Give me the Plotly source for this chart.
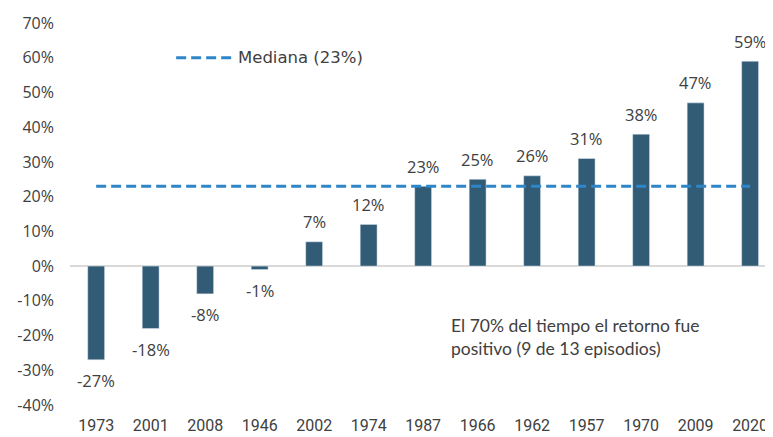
import plotly.graph_objects as go

years = ['1973', '2001', '2008', '1946', '2002', '1974', '1987', '1966', '1962', '1957', '1970', '2009', '2020']
returns = [-27, -18, -8, -1, 7, 12, 23, 25, 26, 31, 38, 47, 59]
median_value = 23
median_label = 'Mediana (23%)'
note_text = 'El 70% del tiempo el retorno fue<br>positivo (9 de 13 episodios)'
y_ticks = list(range(-40, 71, 10))

bar_color = '#325B76'
median_color = '#2E86C8'
text_color = '#404040'

fig = go.Figure()

fig.add_trace(go.Bar(
    x=years, y=returns, width=0.31,
    marker_color=bar_color, showlegend=False, hoverinfo='skip'
))

# median line across all categories
fig.add_trace(go.Scatter(
    x=[years[0], years[-1]], y=[median_value, median_value],
    mode='lines', line=dict(color=median_color, width=3, dash='10px,5px'),
    showlegend=False, hoverinfo='skip'
))

# value labels above / below the bars (category axis -> use index)
for i, v in enumerate(returns):
    fig.add_annotation(
        x=i, y=v, text=f'{v}%', showarrow=False,
        yshift=20 if v >= 0 else -21,
        font=dict(family='Open Sans', size=16.5, color=text_color)
    )

# legend key for the median
fig.add_shape(type='line', xref='paper', yref='y', x0=0.151, x1=0.232, y0=60, y1=60,
              line=dict(color=median_color, width=3, dash='10px,5px'))
fig.add_annotation(xref='paper', yref='y', x=0.236, y=60, text=median_label,
                   showarrow=False, xanchor='left',
                   font=dict(family='DejaVu Sans', size=16.5, color=text_color))

fig.add_annotation(xref='paper', yref='y', x=0.539, y=-20.5, text=note_text,
                   showarrow=False, xanchor='left', align='left',
                   font=dict(family='Lato', size=17.5, color=text_color))

# page body adds an 8px offset, so the figure is shifted by that much
fig.update_layout(
    width=765, height=429,
    margin=dict(l=62, r=0, t=15, b=32),
    plot_bgcolor='white', paper_bgcolor='white',
    bargap=0.69
)
fig.update_xaxes(
    type='category', range=[-0.48, 12.42], showgrid=False, showline=False,
    ticks='', ticklabelstandoff=9,
    tickfont=dict(family='Roboto', size=16, color=text_color)
)
fig.update_yaxes(
    range=[-40, 70], tickvals=y_ticks, ticktext=[f'{t}%' for t in y_ticks],
    showgrid=False, zeroline=True, zerolinecolor='#D9D9D9', zerolinewidth=1.5,
    showline=False, ticks='', ticklabelstandoff=15,
    tickfont=dict(family='Open Sans', size=16, color=text_color)
)

fig.write_html('out.html')
